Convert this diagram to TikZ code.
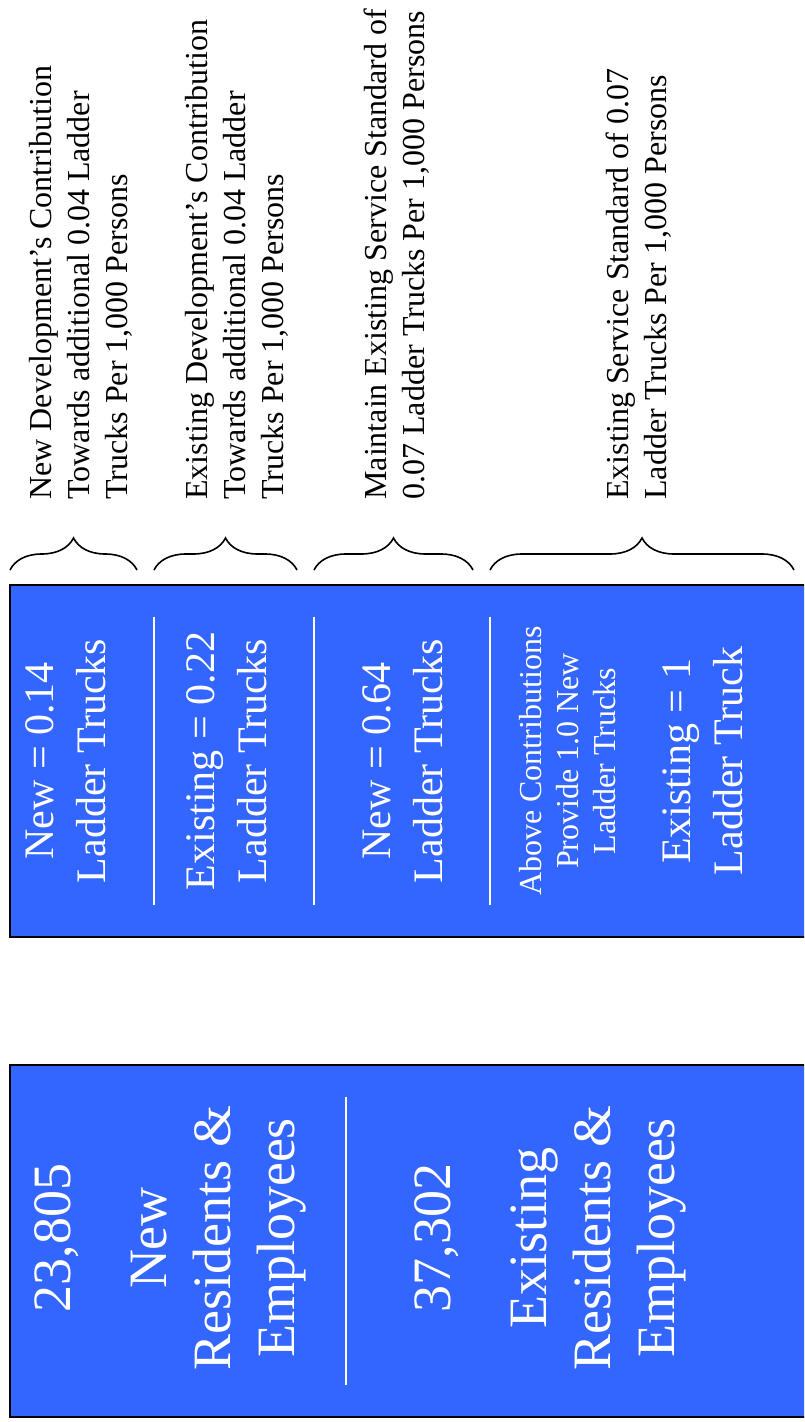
\documentclass[tikz,border=0pt]{standalone}
\usepackage{fontspec}
\setmainfont{Liberation Serif}
\usetikzlibrary{decorations.pathreplacing}
\definecolor{camion}{HTML}{3366FF}

\begin{document}
\begin{tikzpicture}[x=0.5pt,y=-0.5pt,
    caja/.style={fill=camion,draw=black,line width=1pt},
    raya/.style={white,line width=1pt},
    llave/.style={decorate,decoration={brace,amplitude=16pt},line width=0.8pt},
    nota/.style={rotate=90,anchor=north west,inner sep=0pt,align=left,font=\fontsize{16}{19}\selectfont},
    cifra/.style={rotate=90,inner sep=0pt,align=center,text=white,font=\fontsize{21}{26}\selectfont},
    menuda/.style={cifra,font=\fontsize{16}{18.5}\selectfont},
    grande/.style={cifra,font=\fontsize{27}{32}\selectfont}]
  \useasboundingbox (0,0) rectangle (804,1422);
  \clip (0,0) rectangle (804,1422);
  % the two blue boxes
  \draw[caja] (10,585) rectangle (830,937);
  \draw[caja] (10,1065) rectangle (830,1417);
  \draw[raya] (154,617) -- (154,905);
  \draw[raya] (314,617) -- (314,905);
  \draw[raya] (490,617) -- (490,905);
  \draw[raya] (346,1097) -- (346,1385);
  % braces
  \draw[llave] (10,570) -- (137,570);
  \draw[llave] (154,570) -- (297,570);
  \draw[llave] (314,570) -- (473,570);
  \draw[llave] (490,570) -- (794,570);
  % notes above the braces
  \node[nota] (notaA) at (29,500) {New Development’s Contribution\\Towards additional 0.04 Ladder\\Trucks Per 1,000 Persons};
  \node[nota] (notaB) at (185,500) {Existing Development’s Contribution\\Towards additional 0.04 Ladder\\Trucks Per 1,000 Persons};
  \node[nota] (notaC) at (364,500) {Maintain Existing Service Standard of\\0.07 Ladder Trucks Per 1,000 Persons};
  \node[nota] (notaD) at (606,500) {Existing Service Standard of 0.07\\Ladder Trucks Per 1,000 Persons};
  % ladder trucks
  \node[cifra] (nuevoA) at (66,761) {New = 0.14\\Ladder Trucks};
  \node[cifra] (existeA) at (227,761) {Existing = 0.22\\Ladder Trucks};
  \node[cifra] (nuevoB) at (403,761) {New = 0.64\\Ladder Trucks};
  \node[menuda] (arriba) at (568,761) {Above Contributions\\Provide 1.0 New\\Ladder Trucks};
  \node[cifra] (existeB) at (703,761) {Existing = 1\\Ladder Truck};
  % population
  \node[grande] (nuevos) at (170,1238) {23,805\\[16pt]New\\Residents \&\\Employees};
  \node[grande] (existen) at (550,1238) {37,302\\[16pt]Existing\\Residents \&\\Employees};
\end{tikzpicture}
\end{document}
